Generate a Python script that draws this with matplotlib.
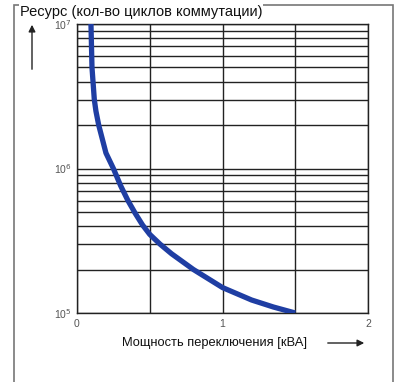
import numpy as np
import matplotlib.pyplot as plt
from matplotlib.patches import Rectangle, FancyArrowPatch

plt.rcParams['font.family'] = ['Liberation Sans', 'DejaVu Sans']

# curve: switching power [kVA] vs. lifetime [cycles]
power = [0.096, 0.103, 0.119, 0.13, 0.149, 0.199, 0.25, 0.30, 0.35, 0.40, 0.45, 0.50, 0.57,
         0.65, 0.80, 1.0, 1.2, 1.35, 1.5]
cycles = [1e7, 5.0e6, 3.0e6, 2.5e6, 2.0e6, 1.28e6, 1e6, 7.6e5, 6.0e5, 4.9e5, 4.07e5, 3.5e5, 3.0e5,
          2.57e5, 2.0e5, 1.5e5, 1.23e5, 1.1e5, 1e5]

xticks = [0, 1, 2]
xtick_labels = ['0', '1', '2']
yticks = [1e5, 1e6, 1e7]
ytick_labels = ['10$^5$', '10$^6$', '10$^7$']

fig = plt.figure(figsize=(3.98, 3.82), dpi=100)
ax = fig.add_axes([77/398, 1-313/382, 291/398, 289/382])

ax.set_yscale('log')
ax.set_xlim(0, 2)
ax.set_ylim(1e5, 1e7)
ax.set_xticks(xticks)
ax.set_xticklabels(xtick_labels)
ax.set_yticks(yticks)
ax.set_yticklabels(ytick_labels)
ax.set_xticks([0.5, 1.5], minor=True)
ax.tick_params(which='both', length=0, labelsize=7.5, labelcolor='#555555', pad=4)
ax.grid(which='both', color='#222222', lw=1.0)
for s in ax.spines.values():
    s.set_color('#222222')
    s.set_linewidth(1.0)
# the top label sits a little higher than the corner
ax.get_yticklabels()[-1].set_y(1.12e7)

ax.plot(power, cycles, '-', color='#1f3ea3', lw=3.8, solid_capstyle='butt',
        solid_joinstyle='round', zorder=3)

# outer frame
fig.patches.append(Rectangle((14/398, -0.01), 379/398, 1-5/382+0.01, transform=fig.transFigure,
                             fill=False, ec='#777777', lw=1.2))

fig.text(20/398, 1-12/382, 'Ресурс (кол-во циклов коммутации)', fontsize=10.5, va='center',
         ha='left', color='#111111', bbox=dict(fc='white', ec='none', pad=0.5))
fig.text(122/398, 1-343/382, 'Мощность переключения [кВА]', fontsize=9.3, va='center',
         ha='left', color='#111111')

fig.patches.append(FancyArrowPatch((32/398, 1-72/382), (32/398, 1-22/382), transform=fig.transFigure,
                                   arrowstyle='-|>,head_length=4,head_width=2', color='#222222', lw=1.0))
fig.patches.append(FancyArrowPatch((325/398, 1-343/382), (367/398, 1-343/382), transform=fig.transFigure,
                                   arrowstyle='-|>,head_length=4,head_width=2', color='#222222', lw=1.0))

fig.savefig('out.png', dpi=100)
